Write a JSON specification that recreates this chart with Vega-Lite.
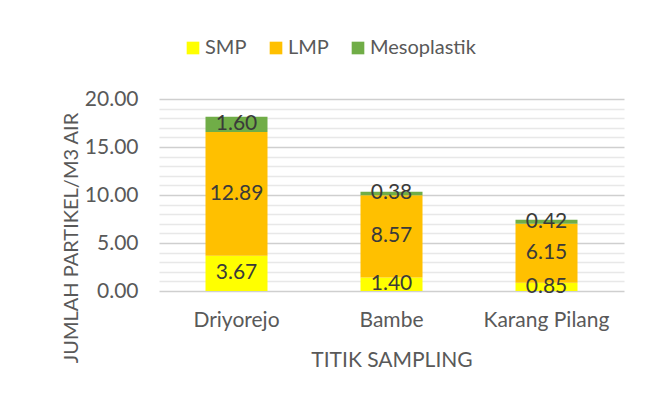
{
  "$schema": "https://vega.github.io/schema/vega-lite/v6.json",
  "width": 465,
  "height": 192,
  "autosize": {"type": "none"},
  "padding": {"left": 159, "top": 99, "right": 28, "bottom": 112},
  "background": "white",
  "config": {
    "font": "Lato",
    "view": {"stroke": null}
  },
  "data": {
    "values": [
      {"lokasi": "Driyorejo", "jenis": "SMP", "nilai": 3.67},
      {"lokasi": "Driyorejo", "jenis": "LMP", "nilai": 12.89},
      {"lokasi": "Driyorejo", "jenis": "Mesoplastik", "nilai": 1.60},
      {"lokasi": "Bambe", "jenis": "SMP", "nilai": 1.40},
      {"lokasi": "Bambe", "jenis": "LMP", "nilai": 8.57},
      {"lokasi": "Bambe", "jenis": "Mesoplastik", "nilai": 0.38},
      {"lokasi": "Karang Pilang", "jenis": "SMP", "nilai": 0.85},
      {"lokasi": "Karang Pilang", "jenis": "LMP", "nilai": 6.15},
      {"lokasi": "Karang Pilang", "jenis": "Mesoplastik", "nilai": 0.42}
    ]
  },
  "transform": [
    {"calculate": "indexof(['SMP','LMP','Mesoplastik'], datum.jenis)", "as": "urut"},
    {"stack": "nilai", "groupby": ["lokasi"], "sort": [{"field": "urut", "order": "ascending"}], "as": ["y0", "y1"]},
    {"calculate": "(datum.y0 + datum.y1) / 2", "as": "ymid"}
  ],
  "encoding": {
    "x": {
      "field": "lokasi",
      "type": "nominal",
      "sort": ["Driyorejo", "Bambe", "Karang Pilang"],
      "scale": {"paddingInner": 0.6, "paddingOuter": 0.3},
      "axis": {
        "title": "TITIK SAMPLING",
        "titleFontSize": 21,
        "titleFontWeight": "normal",
        "titleColor": "#595959",
        "titlePadding": 19,
        "labelAngle": 0,
        "labelFontSize": 21,
        "labelColor": "#595959",
        "labelPadding": 18,
        "ticks": false,
        "domain": false,
        "grid": false
      }
    }
  },
  "layer": [
    {
      "mark": {"type": "bar"},
      "encoding": {
        "y": {
          "field": "y0",
          "type": "quantitative",
          "scale": {"domain": [0, 20], "nice": false},
          "axis": {
            "title": "JUMLAH PARTIKEL/M3 AIR",
            "titleFontSize": 20,
            "titleFontWeight": "normal",
            "titleColor": "#595959",
            "titleAngle": 270,
            "titlePadding": 3,
            "titleY": 138.5,
            "values": [0,1,2,3,4,5,6,7,8,9,10,11,12,13,14,15,16,17,18,19,20],
            "labelExpr": "abs(datum.value % 5) < 0.001 ? format(datum.value, '.2f') : ''",
            "labelOverlap": false,
            "labelFontSize": 21,
            "labelColor": "#595959",
            "labelPadding": 21,
            "ticks": false,
            "domain": false,
            "grid": true,
            "gridColor": {"condition": {"test": "abs(datum.value % 5) < 0.001", "value": "#cfcfcf"}, "value": "#e8e8e8"},
            "gridWidth": 1.3
          }
        },
        "y2": {"field": "y1"},
        "color": {
          "field": "jenis",
          "type": "nominal",
          "sort": ["SMP", "LMP", "Mesoplastik"],
          "scale": {"domain": ["SMP", "LMP", "Mesoplastik"], "range": ["#FFFF00", "#FFC000", "#70AD47"]},
          "legend": {
            "title": null,
            "orient": "none",
            "direction": "horizontal",
            "legendX": 24,
            "legendY": -61,
            "padding": 0,
            "symbolType": "square",
            "symbolSize": 160,
            "symbolStrokeWidth": 0,
            "labelFontSize": 20,
            "labelColor": "#595959",
            "labelOffset": 2,
            "columnPadding": 19
          }
        }
      }
    },
    {
      "mark": {"type": "text", "fontSize": 21, "color": "#3a3a3a", "baseline": "middle"},
      "encoding": {
        "y": {
          "field": "ymid",
          "type": "quantitative",
          "scale": {"domain": [0, 20], "nice": false},
          "axis": {
            "title": "JUMLAH PARTIKEL/M3 AIR",
            "titleFontSize": 20,
            "titleFontWeight": "normal",
            "titleColor": "#595959",
            "titleAngle": 270,
            "titlePadding": 3,
            "titleY": 138.5,
            "values": [0,1,2,3,4,5,6,7,8,9,10,11,12,13,14,15,16,17,18,19,20],
            "labelExpr": "abs(datum.value % 5) < 0.001 ? format(datum.value, '.2f') : ''",
            "labelOverlap": false,
            "labelFontSize": 21,
            "labelColor": "#595959",
            "labelPadding": 21,
            "ticks": false,
            "domain": false,
            "grid": true,
            "gridColor": {"condition": {"test": "abs(datum.value % 5) < 0.001", "value": "#cfcfcf"}, "value": "#e8e8e8"},
            "gridWidth": 1.3
          }
        },
        "text": {"field": "nilai", "type": "quantitative", "format": ".2f"}
      }
    }
  ]
}
